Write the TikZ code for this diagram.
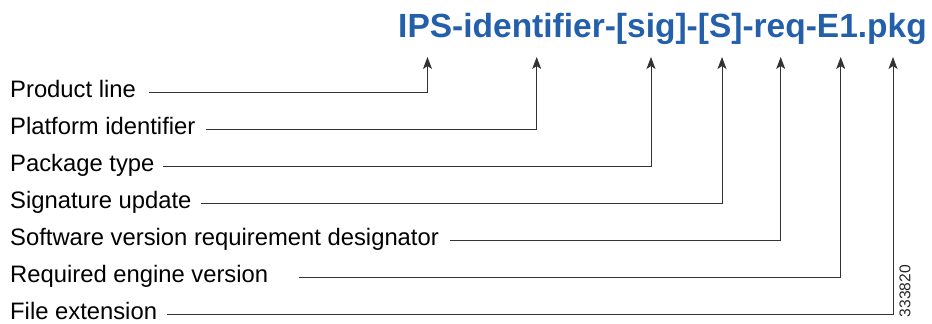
\documentclass[tikz,border=0pt]{standalone}
\usepackage{fontspec}
\setmainfont{Liberation Sans}
\usepackage{tikz}
\usetikzlibrary{arrows.meta,positioning}
\definecolor{ciscoblue}{RGB}{36,96,170}
\begin{document}
\begin{tikzpicture}[x=1pt,y=1pt,
      lbl/.style={
         inner sep=0pt,
         text height=17pt,
         text depth=5pt,
         font=\fontsize{23.8}{26}\selectfont},
      fname/.style={
         anchor=base west,
         inner sep=0pt,
         text=ciscoblue,
         font=\fontsize{33.5}{36}\selectfont\bfseries},
      myarrow/.style={-{Stealth[length=12pt,width=9pt,inset=3pt]},
         line width=0.9pt, draw=black!80},
      node distance=37pt
      ]
      \useasboundingbox (0,0) rectangle (932,324);

      % file name
      \node[fname] (title) at (398,286) {IPS-identifier-[sig]-[S]-req-E1.pkg};

      % arrow tips under the name
      \foreach \n/\x in {t1/427.5,t2/536.7,t3/651,t4/722,t5/780.7,t6/840.7,t7/893}
         \coordinate (\n) at (\x,267);

      % field names
      \node[lbl,anchor=west] (l1) at (10,232) {Product line};
      \node[lbl,below=of l1.west,anchor=west] (l2) {Platform identifier};
      \node[lbl,below=of l2.west,anchor=west] (l3) {Package type};
      \node[lbl,below=of l3.west,anchor=west] (l4) {Signature update};
      \node[lbl,below=of l4.west,anchor=west] (l5) {Software version requirement designator};
      \node[lbl,below=of l5.west,anchor=west] (l6) {Required engine version};
      \node[lbl,below=of l6.west,anchor=west] (l7) {File extension};

    \foreach \i/\j/\g in {% label/tip/gap
      l1/t1/13,
      l2/t2/10,
      l3/t3/8,
      l4/t4/9,
      l5/t5/11,
      l6/t6/31,
      l7/t7/10}
       \draw [myarrow] ([xshift=\g pt]\i.east) -| (\j);

     % figure number
     \node[rotate=90,inner sep=0pt,font=\fontsize{15.6}{17}\selectfont,text=black!85] (fig) at (905,33) {333820};
    \end{tikzpicture}
\end{document}
